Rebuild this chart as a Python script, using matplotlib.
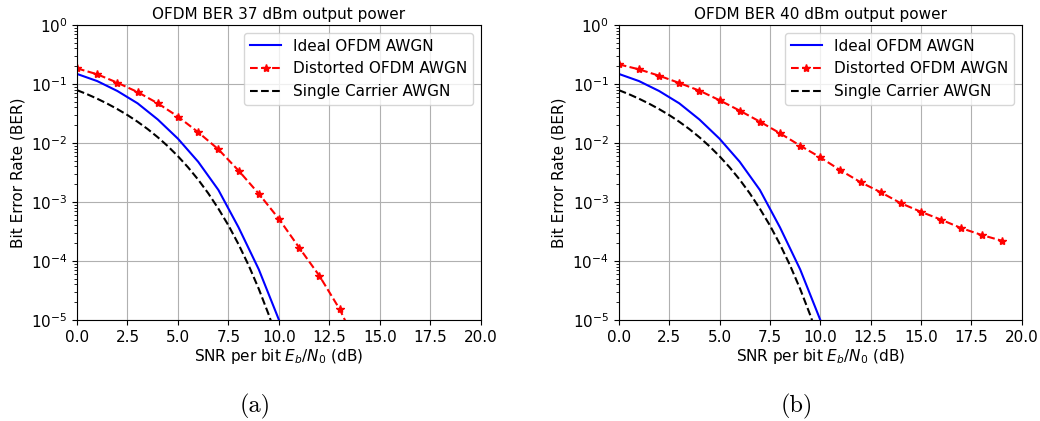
import matplotlib
matplotlib.use("Agg")
import matplotlib.pyplot as plt

plt.rcParams['mathtext.fontset'] = 'dejavusans'

# SNR per bit (dB)
snr_ideal = [0, 1, 2, 3, 4, 5, 6, 7, 8, 9, 10]
ber_ideal = [0.148, 0.112, 0.076, 0.047, 0.025, 0.0118, 0.0048, 0.0016,
             0.00037, 7.2e-5, 1.0e-5]

snr_single = [0, 0.5, 1, 1.5, 2, 2.5, 3, 3.5, 4, 4.5, 5, 5.5, 6, 6.5, 7,
              7.5, 8, 8.5, 9, 9.5, 10]
ber_single = [0.0786, 0.0671, 0.0563, 0.0464, 0.0375, 0.0297, 0.0229,
              0.0172, 0.0125, 0.0088, 0.00595, 0.00386, 0.00239, 0.0014,
              0.00077, 0.0004, 0.000191, 8.4e-5, 3.36e-5, 1.21e-5, 3.9e-6]

# distorted OFDM, 37 dBm
snr_37 = [0, 1, 2, 3, 4, 5, 6, 7, 8, 9, 10, 11, 12, 13, 14]
ber_37 = [0.184, 0.146, 0.105, 0.073, 0.047, 0.028, 0.0152, 0.0078,
          0.0034, 0.00138, 0.000515, 0.000168, 5.6e-5, 1.53e-5, 3.0e-6]

# distorted OFDM, 40 dBm
snr_40 = [0, 1, 2, 3, 4, 5, 6, 7, 8, 9, 10, 11, 12, 13, 14, 15, 16, 17,
          18, 19]
ber_40 = [0.215, 0.177, 0.138, 0.104, 0.077, 0.053, 0.0353, 0.023, 0.0146,
          0.009, 0.0057, 0.00344, 0.00216, 0.00146, 0.00095, 0.00068,
          0.0005, 0.00036, 0.000276, 0.000221]

titulos = ["OFDM BER 37 dBm output power", "OFDM BER 40 dBm output power"]
etiquetas = ["(a)", "(b)"]
distorsion = [(snr_37, ber_37), (snr_40, ber_40)]

fig = plt.figure(figsize=(10.4, 4.21), dpi=100)
posiciones = [[0.074, 0.24, 0.3885, 0.7007], [0.595, 0.24, 0.3875, 0.7007]]
centros = [0.245, 0.766]  # los (a) y (b) no van centrados en los ejes

for i in range(2):
    ax = fig.add_axes(posiciones[i])
    ax.semilogy(snr_ideal, ber_ideal, color="blue", lw=1.5,
                label="Ideal OFDM AWGN")
    ax.semilogy(distorsion[i][0], distorsion[i][1], "r*--", lw=1.5,
                markersize=6, label="Distorted OFDM AWGN")
    ax.semilogy(snr_single, ber_single, "k--", lw=1.5,
                label="Single Carrier AWGN")
    ax.set_xlim(0, 20)
    ax.set_ylim(1e-5, 1)
    ax.set_xticks([0, 2.5, 5, 7.5, 10, 12.5, 15, 17.5, 20])
    ax.grid(True, which="major")
    ax.set_title(titulos[i], fontsize=11, pad=4)
    ax.set_xlabel(r"SNR per bit $E_b/N_0$ (dB)", fontsize=11, labelpad=2)
    ax.set_ylabel("Bit Error Rate (BER)", fontsize=11)
    ax.tick_params(labelsize=11)
    ax.legend(loc="upper right", fontsize=11)
    fig.text(centros[i], 0.035, etiquetas[i], ha="center", va="center",
             fontsize=17.5, family="cmr10")

plt.savefig("out.png", dpi=100)
